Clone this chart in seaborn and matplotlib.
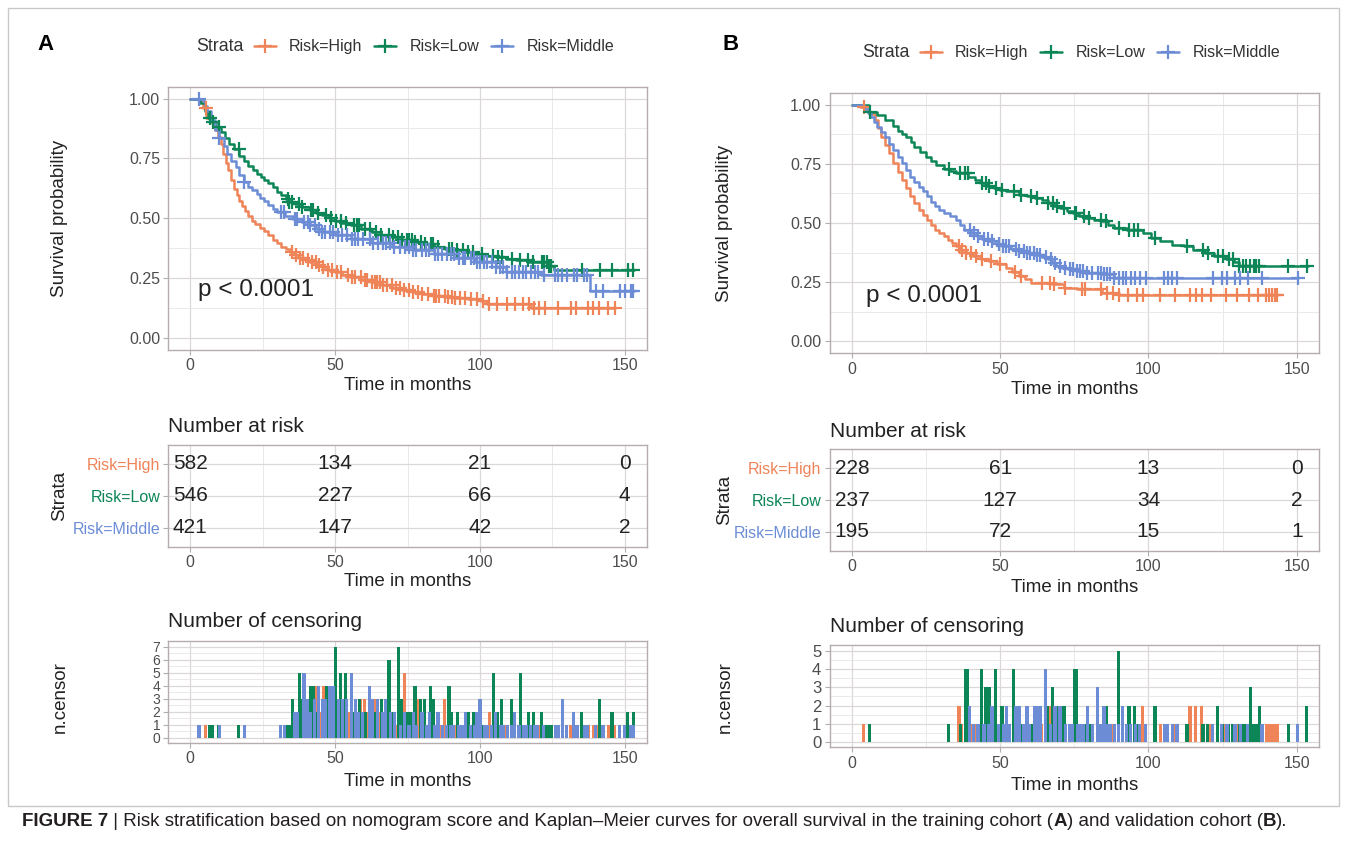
import numpy as np
import matplotlib
matplotlib.use("Agg")
import matplotlib.pyplot as plt
import seaborn as sns
from matplotlib.lines import Line2D
from matplotlib.patches import Rectangle
from matplotlib import font_manager

# ------------------------------------------------------------------ data
strata = ["Risk=High", "Risk=Low", "Risk=Middle"]
strata_colors = ["#EE8458", "#0D8657", "#6C8DD5"]
time_ticks = [0, 50, 100, 150]
risk_times = [0, 50, 100, 150]

# Panel A (training cohort) - Kaplan-Meier step points (time, survival)
A_high_t = [0, 3, 4.3, 5.5, 7, 8.5, 9.5, 10.5, 11.4, 12.2, 13, 14, 15, 16, 17, 18, 19, 20, 21.4, 22.5,
            24, 25.5, 27, 28.5, 30, 31.5, 33, 34.5, 36, 37.5, 39.5, 41.5, 43.5, 45.6, 47.5, 49.9, 52.5,
            55.6, 59, 62.7, 66, 69.8, 73, 76.9, 80, 84, 88, 91.2, 96, 100.5, 102.6, 108, 117.8, 146.5]
A_high_s = [1.0, 0.99, 0.96, 0.92, 0.90, 0.87, 0.84, 0.81, 0.77, 0.73, 0.70, 0.66, 0.62, 0.595, 0.57,
            0.55, 0.53, 0.51, 0.49, 0.475, 0.46, 0.445, 0.43, 0.41, 0.395, 0.38, 0.37, 0.36, 0.345,
            0.335, 0.325, 0.315, 0.305, 0.295, 0.285, 0.273, 0.263, 0.252, 0.242, 0.231, 0.22, 0.21,
            0.20, 0.19, 0.182, 0.175, 0.17, 0.166, 0.162, 0.152, 0.143, 0.14, 0.125, 0.125]
A_low_t = [0, 3.5, 5, 6, 7.5, 9, 10.5, 12, 13.5, 15, 17, 18.5, 20, 21.5, 23, 24.5, 25.6, 27, 28.5, 30,
           31.3, 33, 34.2, 36, 38.5, 41.3, 43.5, 45.6, 48, 49.9, 52.5, 55.6, 59, 62.7, 66, 69.8, 73,
           76.9, 80, 84, 88, 91.2, 95, 98.3, 102, 105.4, 109, 112.5, 117, 119.7, 123.9, 125.4, 153.2]
A_low_s = [1.0, 0.98, 0.95, 0.92, 0.90, 0.88, 0.86, 0.835, 0.81, 0.79, 0.76, 0.74, 0.72, 0.70, 0.685,
           0.67, 0.66, 0.645, 0.63, 0.61, 0.596, 0.58, 0.568, 0.558, 0.547, 0.533, 0.522, 0.512, 0.50,
           0.49, 0.48, 0.47, 0.456, 0.442, 0.43, 0.42, 0.41, 0.40, 0.39, 0.379, 0.37, 0.365, 0.357,
           0.35, 0.343, 0.337, 0.33, 0.323, 0.318, 0.316, 0.30, 0.283, 0.283]
A_mid_t = [0, 4.3, 5, 5.7, 7, 8.5, 10, 11.5, 12.8, 14.2, 15.7, 17, 18.5, 20, 21.4, 23, 24.2, 25.5, 27,
           28.5, 30, 32.8, 35.6, 38.5, 41.3, 43.5, 45.6, 49.9, 55.6, 62.7, 69.8, 76.9, 84, 91.2, 98.3,
           105.4, 109, 121, 137.9, 153.2]
A_mid_s = [1.0, 0.99, 0.97, 0.95, 0.91, 0.87, 0.835, 0.80, 0.77, 0.74, 0.715, 0.68, 0.65, 0.63, 0.617,
           0.60, 0.585, 0.57, 0.555, 0.54, 0.526, 0.51, 0.498, 0.484, 0.47, 0.455, 0.442, 0.428,
           0.414, 0.395, 0.381, 0.365, 0.35, 0.334, 0.316, 0.295, 0.273, 0.264, 0.195, 0.195]

# Panel A censoring (time, number censored)
A_high_cens = [(5.3, 1), (35, 1), (36.5, 1), (38, 2), (39, 1), (40.5, 2), (42, 2), (43.3, 4), (44.5, 2),
               (46, 4), (47.7, 4), (49, 2), (50.5, 1), (52, 2), (54.5, 2), (56, 1), (57, 2), (58.8, 3),
               (60.2, 3), (61, 2), (62.8, 3), (63.8, 3), (64.5, 2), (65.5, 2), (66.5, 1), (68, 2),
               (69.7, 2), (71, 1), (72.5, 1), (73.9, 5), (75.5, 1), (77, 2), (78.7, 3), (80, 2), (82, 1),
               (84, 1), (85, 1), (86, 1), (87.9, 3), (89, 1), (90.5, 1), (91.5, 1), (93, 1), (95, 1),
               (97, 1), (99, 1), (101, 1), (103.2, 2), (106, 1), (109.2, 1), (112, 1), (115, 1), (117, 1),
               (118.5, 1), (120.5, 1), (122.5, 1), (127, 1), (131.3, 1), (133, 1), (137.4, 1), (139.1, 1),
               (141, 1), (144.3, 1), (146.5, 1)]
A_low_cens = [(6.7, 1), (7.8, 1), (9.9, 1), (16.7, 1), (33.6, 1), (34.2, 1), (35.3, 3), (37.6, 5), (38.5, 3),
              (41.6, 4), (42.5, 4), (44, 2), (47, 4), (48.7, 4), (50.2, 7), (52, 5), (53.7, 5), (56.5, 2),
              (57.5, 2), (58.3, 3), (60.5, 2), (62, 2), (64, 2), (66, 3), (68.6, 6), (70, 2), (71.8, 7),
              (73, 3), (74.7, 2), (75.5, 2), (76.4, 2), (77.6, 4), (79.5, 3), (81, 3), (83, 4), (83.9, 3),
              (85.5, 1), (89.3, 4), (90.2, 2), (92.2, 2), (94, 1), (96, 2), (97.7, 2), (100.8, 1),
              (104.6, 5), (106.1, 2), (107.5, 3), (110.9, 3), (114, 5), (116.7, 2), (118.4, 2), (121.3, 2),
              (122, 1), (123, 1), (124, 1), (124.7, 1), (135.1, 2), (141.4, 3), (145.6, 2), (151, 2),
              (152.9, 2)]
A_mid_cens = [(3, 1), (10, 1), (18.7, 1), (31.3, 1), (32.5, 1), (36, 2), (37, 2), (39.3, 5), (40.5, 3),
              (41.5, 2), (43, 3), (44.3, 4), (45.6, 3), (46.5, 3), (48.2, 4), (49.3, 4), (51.1, 3),
              (52.5, 3), (54, 3), (55.7, 5), (57, 3), (58, 2), (59.5, 2), (61.9, 4), (63, 3), (64.7, 3),
              (66.5, 2), (67.5, 3), (69, 2), (70.5, 2), (72.5, 1), (74, 2), (75.5, 1), (77, 2), (78, 1),
              (80, 2), (81.5, 1), (82.5, 2), (84.5, 1), (85.5, 2), (87, 1), (88.5, 1), (90, 1), (91, 1),
              (92.8, 1), (94, 1), (95, 2), (96.8, 1), (98, 1), (99, 2), (100, 3), (101.5, 1), (102.5, 1),
              (104, 1), (105.5, 2), (107, 1), (108, 1), (109.5, 1), (111, 1), (112, 2), (113.5, 1),
              (115, 1), (116, 1), (117.5, 1), (119, 1), (120, 1), (122, 1), (126, 1), (127, 1),
              (128.5, 3), (130, 1), (132.4, 2), (133.5, 1), (136, 1), (137, 1), (140, 1), (142.5, 1),
              (148.3, 1), (150, 1), (152, 1), (153, 1)]

A_risk_high = [582, 134, 21, 0]
A_risk_low = [546, 227, 66, 4]
A_risk_mid = [421, 147, 42, 2]

# Panel B (validation cohort)
B_high_t = [0, 2.8, 4.5, 5.6, 7.7, 8.8, 9.8, 11.2, 12.6, 14, 15.5, 16.9, 18.3, 19.7, 21, 22.5, 24, 25.3,
            26.7, 28.1, 29.5, 30.9, 32.3, 33.7, 35, 36.5, 38.5, 40.7, 43.5, 46.3, 49, 52, 54, 56.2, 58.3,
            60.4, 67.4, 71.6, 75.8, 84.3, 89.9, 143.3]
B_high_s = [1.0, 0.99, 0.975, 0.962, 0.934, 0.90, 0.864, 0.83, 0.794, 0.752, 0.717, 0.682, 0.647, 0.612,
            0.585, 0.556, 0.535, 0.514, 0.493, 0.472, 0.458, 0.444, 0.43, 0.416, 0.402, 0.388, 0.374,
            0.36, 0.35, 0.339, 0.325, 0.311, 0.293, 0.276, 0.262, 0.248, 0.241, 0.227, 0.22, 0.206,
            0.195, 0.195]
B_low_t = [0, 5.6, 8.4, 11.2, 14, 15.4, 17, 18.3, 20, 21, 23, 25, 26.7, 28.5, 30.9, 33, 35.1, 39.3, 41.5,
           43.5, 45.5, 47.8, 50, 52, 56.2, 59, 61.8, 64, 66, 68, 70.2, 72.5, 74.4, 76.5, 78.7, 81.5, 84.3,
           86.5, 88.5, 92.7, 98.3, 101, 104, 108, 112, 115, 119, 122, 126, 129, 130.6, 153.8]
B_low_s = [1.0, 0.97, 0.955, 0.934, 0.91, 0.89, 0.875, 0.864, 0.84, 0.822, 0.80, 0.78, 0.76, 0.745, 0.73,
           0.72, 0.71, 0.696, 0.68, 0.668, 0.657, 0.647, 0.64, 0.633, 0.619, 0.612, 0.605, 0.595, 0.584,
           0.573, 0.563, 0.552, 0.542, 0.531, 0.521, 0.514, 0.507, 0.493, 0.479, 0.472, 0.458, 0.437,
           0.423, 0.409, 0.402, 0.388, 0.374, 0.36, 0.346, 0.335, 0.318, 0.318]
B_mid_t = [0, 4.2, 5.5, 6.3, 7.5, 8.4, 9.8, 11.2, 12.5, 14, 15.5, 16.9, 18.3, 19.7, 21, 22.5, 24, 25.3,
           26.7, 28.1, 29.5, 30.9, 33, 35.1, 36.5, 37.9, 40, 42.1, 44, 46.3, 48.5, 50.6, 53.5, 56.2, 59,
           61.8, 64, 66, 67.5, 68.8, 71, 73, 76, 78.7, 84.3, 88.5, 150.3]
B_mid_s = [1.0, 0.98, 0.965, 0.948, 0.925, 0.906, 0.885, 0.864, 0.835, 0.808, 0.78, 0.752, 0.725, 0.696,
           0.675, 0.654, 0.633, 0.612, 0.59, 0.57, 0.556, 0.542, 0.528, 0.514, 0.49, 0.472, 0.458,
           0.444, 0.434, 0.423, 0.412, 0.402, 0.392, 0.381, 0.374, 0.367, 0.356, 0.346, 0.332, 0.318,
           0.311, 0.304, 0.297, 0.29, 0.283, 0.269, 0.269]

B_high_cens = [(3.9, 1), (36.1, 2), (37, 1), (38.5, 1), (40, 1), (42, 1), (44, 1), (47, 1), (50, 1), (55, 1),
               (57, 1), (64, 1), (66.7, 2), (68, 1), (72, 1), (77.5, 1), (78.5, 1), (84, 1), (86, 1), (88, 1),
               (90, 1), (93, 1), (96, 1), (98, 2), (104, 1), (109, 1), (114, 2), (115.9, 2), (118, 2),
               (121, 1), (126, 1), (130, 1), (134, 1), (137, 1), (139.7, 1), (140.5, 1), (141.5, 1),
               (142.6, 1), (143.3, 1)]
B_low_cens = [(6, 1), (32.6, 1), (36.5, 1), (38.2, 4), (39, 4), (43.8, 4), (45.2, 3), (46.3, 3), (48.5, 4),
              (50.6, 2), (54.5, 4), (57, 1), (60.5, 1), (62.5, 1), (66, 2), (67.7, 3), (69, 2), (71.5, 2),
              (75.1, 4), (75.6, 4), (78.3, 1), (80, 1), (84, 1), (85.7, 2), (89.9, 5), (93.4, 2), (95.2, 2),
              (96.5, 1), (102.2, 2), (113, 1), (118.4, 1), (120, 1), (123.3, 2), (125, 1), (127, 1),
              (128.5, 1), (130.6, 1), (132, 1), (133, 1), (134.4, 3), (135.5, 1), (136.3, 1), (137.4, 2),
              (147.2, 1), (153.4, 2)]
B_mid_cens = [(39.7, 2), (41, 1), (42.5, 1), (44.5, 1), (46, 1), (47.2, 2), (49.5, 1), (51, 1), (52, 2),
              (53, 1), (55.3, 2), (56.5, 2), (58, 1), (59, 2), (60, 1), (61.5, 2), (62.5, 2), (63.5, 2),
              (65.3, 4), (67, 1), (68.5, 2), (70.2, 2), (72, 1), (73.5, 1), (74.5, 1), (76, 1), (77, 1),
              (78, 1), (79.4, 2), (81, 1), (82.9, 3), (84, 1), (85, 2), (86, 1), (87, 1), (88.5, 1),
              (90, 1), (91.3, 2), (92.5, 1), (94, 1), (95.5, 1), (97, 1), (99, 1), (105.3, 1), (106.5, 1),
              (108, 1), (109.6, 1), (121.6, 1), (124.7, 1), (126.5, 1), (129.2, 1), (131, 1), (133.5, 1),
              (138.3, 1), (150.3, 1)]

B_risk_high = [228, 61, 13, 0]
B_risk_low = [237, 127, 34, 2]
B_risk_mid = [195, 72, 15, 1]

# ------------------------------------------------------------------ style
sns.set_theme(style="white")
plt.rcParams["font.family"] = ["Liberation Sans", "DejaVu Sans"]

BORDER = "#B5ADAD"
GRID = "#DCD8D8"
GRID2 = "#E8E5E5"
TICKC = "#4D4D4D"
TXT = "#222222"

W, H = 1347, 864
fig = plt.figure(figsize=(W / 100, H / 100), dpi=100)
fig.patch.set_facecolor("white")


def add_axes(L, R, T, B):
    return fig.add_axes([L / W, 1 - B / H, (R - L) / W, (B - T) / H])


def style_axes(ax, yminor=True, ysize=11.5):
    ax.set_facecolor("white")
    for sp in ax.spines.values():
        sp.set_visible(True)
        sp.set_color(BORDER)
        sp.set_linewidth(1.0)
    ax.tick_params(axis="both", which="major", length=3.5, width=0.8, color=BORDER,
                   labelcolor=TICKC, labelsize=11.5, pad=2.5, left=True, bottom=True)
    ax.tick_params(axis="y", which="major", labelsize=ysize)
    ax.tick_params(axis="both", which="minor", length=0)
    ax.set_xlim(-7.5, 157.5)
    ax.set_xticks(time_ticks)
    ax.set_xticks([25, 75, 125], minor=True)
    ax.grid(which="major", axis="both", color=GRID, linewidth=0.9)
    ax.grid(which="minor", axis="x", color=GRID2, linewidth=0.6)
    if yminor:
        ax.grid(which="minor", axis="y", color=GRID2, linewidth=0.6)
    ax.set_axisbelow(True)
    ax.set_xlabel("")
    ax.set_ylabel("")


def step_value(t, s, x):
    idx = np.searchsorted(np.asarray(t), np.asarray(x), side="right") - 1
    return np.asarray(s)[idx]


def draw_panel(geo, curves, censors, risks, pxy):
    L, R = geo["L"], geo["R"]
    xc = (L + R) / 2

    # ---- survival curves
    ax = add_axes(L, R, geo["mT"], geo["mB"])
    for (t, s), cens, col in zip(curves, censors, strata_colors):
        sns.lineplot(x=t, y=s, ax=ax, color=col, drawstyle="steps-post", estimator=None,
                     linewidth=1.8, legend=False)
        ct = [c[0] for c in cens]
        cy = step_value(t, s, ct)
        sns.scatterplot(x=ct, y=cy, ax=ax, marker="+", color=col, s=95, linewidth=1.6,
                        legend=False, zorder=3)
    style_axes(ax)
    ax.set_ylim(-0.05, 1.05)
    ax.set_yticks([0, 0.25, 0.5, 0.75, 1.0])
    ax.set_yticklabels(["0.00", "0.25", "0.50", "0.75", "1.00"])
    ax.set_yticks([0.125, 0.375, 0.625, 0.875], minor=True)
    ax.text(pxy[0], pxy[1], "p < 0.0001", fontsize=17.5, color=TXT, ha="left", va="center")
    fig.text(geo["ylx"] / W, 1 - (geo["mT"] + geo["mB"]) / 2 / H, "Survival probability",
             rotation=90, ha="center", va="center", fontsize=13.5, color=TXT)
    fig.text(xc / W, 1 - geo["mxl"] / H, "Time in months", ha="center", va="center",
             fontsize=13.5, color=TXT)

    # ---- legend
    fig.text(geo["legx"] / W, 1 - geo["legy"] / H, "Strata", ha="left", va="center",
             fontsize=12.8, color="#333333")
    handles = [Line2D([], [], color=c, lw=1.8, marker="+", markersize=10, mew=1.6)
               for c in strata_colors]
    fig.legend(handles, strata, loc="center left",
               bbox_to_anchor=((geo["legx"] + 58) / W, 1 - geo["legy"] / H),
               ncol=3, frameon=False, fontsize=11.5, handlelength=1.35, handletextpad=0.85,
               columnspacing=0.75, borderpad=0, borderaxespad=0, labelcolor="#333333")

    # ---- risk table
    axt = add_axes(L, R, geo["tT"], geo["tB"])
    style_axes(axt, yminor=False)
    axt.set_ylim(-0.6, 2.6)
    axt.set_yticks([2, 1, 0])
    axt.set_yticklabels(strata)
    for lab, col in zip(axt.get_yticklabels(), strata_colors):
        lab.set_color(col)
    for row, vals in zip([2, 1, 0], risks):
        for tt, v in zip(risk_times, vals):
            axt.text(tt, row, str(v), ha="center", va="center", fontsize=15, color=TXT)
    fig.text(L / W, 1 - geo["ttl1"] / H, "Number at risk", ha="left", va="center",
             fontsize=15, color=TXT)
    fig.text(geo["ylx"] / W, 1 - (geo["tT"] + geo["tB"]) / 2 / H, "Strata", rotation=90,
             ha="center", va="center", fontsize=13.5, color=TXT)
    fig.text(xc / W, 1 - geo["txl"] / H, "Time in months", ha="center", va="center",
             fontsize=13.5, color=TXT)

    # ---- censoring bars
    axc = add_axes(L, R, geo["cT"], geo["cB"])
    for cens, col in zip(censors, strata_colors):
        axc.bar([c[0] for c in cens], [c[1] for c in cens], width=1.1, color=col,
                linewidth=0, zorder=2)
    style_axes(axc, ysize=geo["cysize"])
    ymax = geo["cmax"]
    axc.set_ylim(geo["cylo"], geo["cyhi"])
    axc.set_yticks(list(range(ymax + 1)))
    axc.set_yticks([i + 0.5 for i in range(ymax)], minor=True)
    fig.text(L / W, 1 - geo["ttl2"] / H, "Number of censoring", ha="left", va="center",
             fontsize=15, color=TXT)
    fig.text(geo["ylx"] / W, 1 - geo["ncy"] / H, "n.censor", rotation=90,
             ha="center", va="center", fontsize=13.5, color=TXT)
    fig.text(xc / W, 1 - geo["cxl"] / H, "Time in months", ha="center", va="center",
             fontsize=13.5, color=TXT)

    fig.text(geo["letx"] / W, 1 - geo["lety"] / H, geo["letter"], ha="center", va="center",
             fontsize=16, fontweight="bold", color="black")


geoA = dict(L=168.5, R=646.5, mT=86.6, mB=349.7, mxl=385, tT=444.5, tB=547, txl=582,
            ttl1=426.7, cT=640.7, cB=742.7, cxl=781, ttl2=621.7, ylx=60, ncy=697,
            cmax=7, cylo=-0.4, cyhi=7.45, cysize=10, legx=196, legy=46.7, letx=46, lety=45,
            letter="A")
geoB = dict(L=829.7, R=1319, mT=92.7, mB=353.3, mxl=390, tT=449.3, tB=550.7, txl=588,
            ttl1=431.7, cT=645, cB=747.3, cxl=785, ttl2=626.7, ylx=725, ncy=697,
            cmax=5, cylo=-0.27, cyhi=5.3, cysize=12, legx=862, legy=52.7, letx=731, lety=45,
            letter="B")

draw_panel(geoA, [(A_high_t, A_high_s), (A_low_t, A_low_s), (A_mid_t, A_mid_s)],
           [A_high_cens, A_low_cens, A_mid_cens], [A_risk_high, A_risk_low, A_risk_mid], (2.7, 0.20))
draw_panel(geoB, [(B_high_t, B_high_s), (B_low_t, B_low_s), (B_mid_t, B_mid_s)],
           [B_high_cens, B_low_cens, B_mid_cens], [B_risk_high, B_risk_low, B_risk_mid], (4.6, 0.19))

# ---- outer frame
fig.add_artist(Rectangle((8 / W, 1 - 806 / H), (1339 - 8) / W, (806 - 8) / H,
                         transform=fig.transFigure, fill=False, edgecolor="#C8C8C8", linewidth=1.0))

# ---- caption with mixed weights
names = {f.name for f in font_manager.fontManager.ttflist}
cap_family = ["Liberation Sans Narrow", "DejaVu Sans"] if "Liberation Sans Narrow" in names \
    else ["Liberation Sans", "DejaVu Sans"]
segments = [("FIGURE 7", "bold"),
            (" | Risk stratification based on nomogram score and Kaplan\u2013Meier curves for overall "
             "survival in the training cohort (", "normal"),
            ("A", "bold"), (") and validation cohort (", "normal"), ("B", "bold"), (").", "normal")]
renderer = fig.canvas.get_renderer()


def caption(size):
    arts = []
    x = 22
    for txt, wt in segments:
        a = fig.text(x / W, 1 - 822 / H, txt, ha="left", va="center", fontsize=size,
                     fontweight=wt, color="#231F20", family=cap_family)
        bb = a.get_window_extent(renderer=renderer)
        x += bb.width
        arts.append(a)
    return arts, x


arts, xend = caption(13)
for a in arts:
    a.remove()
size = 13 * (1286 - 22) / (xend - 22)
caption(size)

fig.savefig("out.png", dpi=100, facecolor="white")
